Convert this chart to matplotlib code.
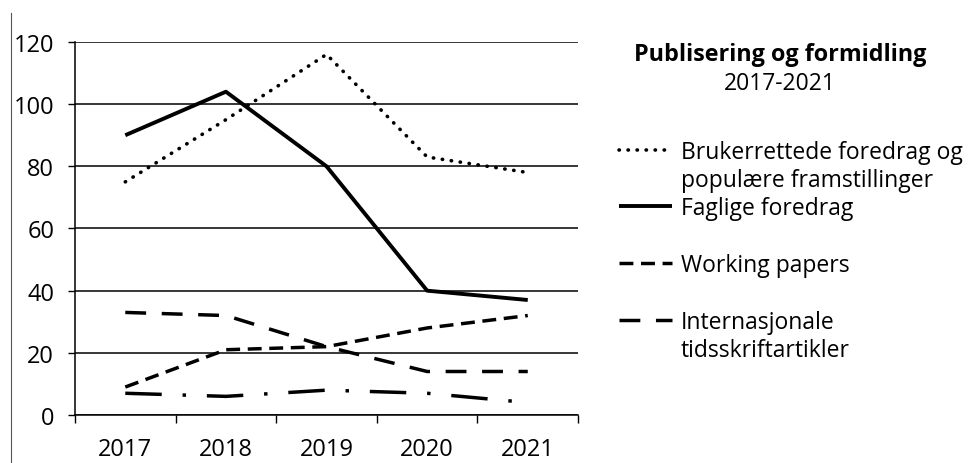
import matplotlib.pyplot as plt
from matplotlib.lines import Line2D
import numpy as np

plt.rcParams['font.family'] = ['Open Sans', 'DejaVu Sans']

years = ["2017", "2018", "2019", "2020", "2021"]
brukerrettede = [75, 95, 116, 83, 78]
faglige = [90, 104, 80, 40, 37]
working_papers = [9, 21, 22, 28, 32]
internasjonale = [33, 32, 22, 14, 14]
annet = [7, 6, 8, 7, 4]

fig = plt.figure(figsize=(9.75, 4.64), dpi=100)
ax = fig.add_axes([0.0769, 0.1034, 0.516, 0.804])

x = np.arange(len(years))
lw = 2.5
l_bru, = ax.plot(x, brukerrettede, color='black', lw=2.6, linestyle=(0, (0.1, 2.4)), dash_capstyle='round')
l_fag, = ax.plot(x, faglige, color='black', lw=2.8, solid_capstyle='butt')
l_wp, = ax.plot(x, working_papers, color='black', lw=lw, linestyle=(0, (4.0, 2.2)))
l_int, = ax.plot(x, internasjonale, color='black', lw=lw, linestyle=(0, (6, 4.5)))
ax.plot(x, annet, color='black', lw=lw, linestyle=(0, (10.5, 6, 1, 6)))

ax.set_xlim(-0.5, len(years) - 0.5)
ax.set_ylim(0, 120)
ax.set_yticks(range(0, 121, 20))
ax.set_xticks(np.arange(-0.5, len(years), 1))
ax.set_xticklabels([])
ax.set_xticks(x, minor=True)
ax.set_xticklabels(years, minor=True)
ax.tick_params(axis='x', which='major', direction='out', length=6, width=1)
ax.tick_params(axis='x', which='minor', length=0, pad=16, labelsize=17)
ax.tick_params(axis='y', direction='out', length=5, width=1, pad=10, labelsize=17)
ax.grid(axis='y', color='black', lw=1.1)
ax.set_axisbelow(True)
for s in ['top', 'right']:
    ax.spines[s].set_visible(False)
ax.spines['left'].set_linewidth(1.1)
ax.spines['bottom'].set_linewidth(1.1)

# thin frame line on the left edge
fig.add_artist(Line2D([0.0113, 0.0113], [0, 0.97], color='#555555', lw=0.8))

fig.text(0.80, 0.882, "Publisering og formidling", ha='center', va='center',
         fontsize=16.8, fontweight='bold')
fig.text(0.80, 0.818, "2017-2021", ha='center', va='center', fontsize=16.5)

blank = Line2D([], [], linestyle='none')
handles = [l_bru, blank, l_fag, blank, l_wp, blank, l_int, blank]
labels = ["Brukerrettede foredrag og", "populære framstillinger", "Faglige foredrag", " ",
          "Working papers", " ", "Internasjonale", "tidsskriftartikler"]
fig.legend(handles, labels, loc='upper left', bbox_to_anchor=(0.635, 0.697),
           frameon=False, fontsize=16.5, handlelength=2.3, handletextpad=0.4,
           labelspacing=0.19, borderaxespad=0, borderpad=0)

fig.savefig("out.png", dpi=100)
